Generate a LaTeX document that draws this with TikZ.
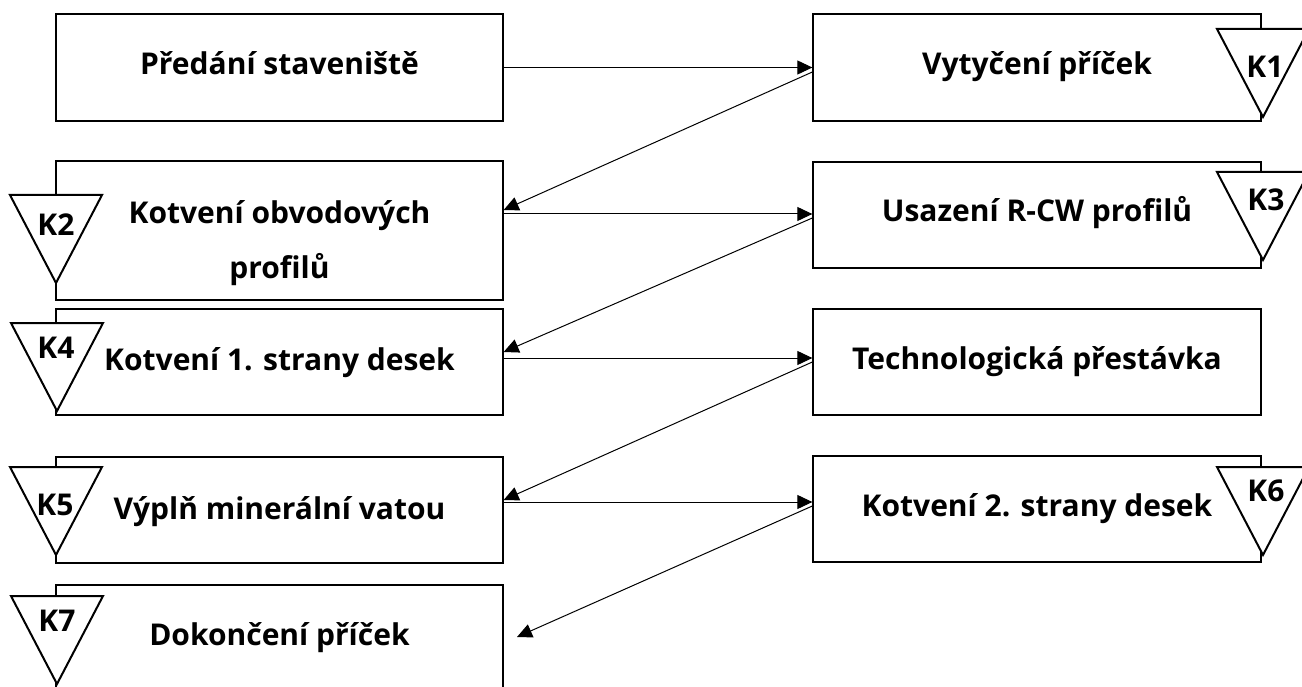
\documentclass[tikz,border=0pt]{standalone}
\usepackage{fontspec}
\setmainfont{Open Sans}
\usetikzlibrary{arrows.meta}
\newcommand\ktri[5]{%
  \draw[tri] ({#1-46},#2) -- ({#1+46},#2) -- (#1,{#2+88}) -- cycle;
  \node[klab] (#3) at (#4,#5) {#3};}
\begin{document}
\begin{tikzpicture}[x=1pt,y=-1pt,
  box/.style={draw, line width=1.3pt, rectangle, inner sep=0pt, minimum width=447pt, fill=white},
  lbl/.style={font=\fontsize{30}{55}\selectfont\bfseries, inner sep=0pt, anchor=base, align=center},
  conn/.style={line width=1pt, -{Triangle[length=15pt,width=14pt]}},
  tri/.style={draw, line width=2pt, fill=white, line join=miter},
  klab/.style={font=\fontsize{30}{30}\selectfont\bfseries, inner sep=0pt}]
\useasboundingbox (0,0) rectangle (1302,687);
\clip (0,0) rectangle (1302,687);
% left boxes
\node[box, minimum height=107pt] (b1) at (279.5,67.5) {};
\node[box, minimum height=139pt] (b2) at (279.5,230.5) {};
\node[box, minimum height=106pt] (b3) at (279.5,362) {};
\node[box, minimum height=106pt] (b4) at (279.5,510) {};
\node[box, minimum height=107pt] (b5) at (279.5,638.5) {};
% right boxes
\node[box, minimum width=448pt, minimum height=107pt] (r1) at (1037,67.5) {};
\node[box, minimum width=448pt, minimum height=106pt] (r2) at (1037,215) {};
\node[box, minimum width=448pt, minimum height=106pt] (r3) at (1037,362) {};
\node[box, minimum width=448pt, minimum height=106pt] (r4) at (1037,509) {};
% texts
\node[lbl] (t1) at (279.5,75) {Předání staveniště};
\node[lbl] (t2) at (279.5,279) {Kotvení obvodových\\profilů};
\node[lbl] (t3) at (279.5,370) {Kotvení 1. strany desek};
\node[lbl] (t4) at (279.5,519) {Výplň minerální vatou};
\node[lbl] (t5) at (279.5,645) {Dokončení příček};
\node[lbl] (s1) at (1037,75) {Vytyčení příček};
\node[lbl] (s2) at (1037,222) {Usazení R-CW profilů};
\node[lbl] (s3) at (1037,369) {Technologická přestávka};
\node[lbl] (s4) at (1037,516) {Kotvení 2. strany desek};
% triangles
\ktri{1263}{29}{K1}{1265}{67}
\ktri{56}{195}{K2}{56}{225}
\ktri{1263}{172}{K3}{1266}{200}
\ktri{57}{323}{K4}{56}{348}
\ktri{56}{467}{K5}{55}{505}
\ktri{1263}{467}{K6}{1266}{491}
\ktri{57}{596}{K7}{57}{621}
% connectors
\coordinate (end8) at (517,637);
\draw[conn] (b1.east) -- (r1.west);
\draw[conn] ([yshift=-4.5pt]r1.west) -- ([yshift=20.5pt]b2.east);
\draw[conn] ([yshift=16.5pt]b2.east) -- ([yshift=1pt]r2.west);
\draw[conn] ([yshift=-3pt]r2.west) -- ([yshift=10pt]b3.east);
\draw[conn] ([yshift=4pt]b3.east) -- ([yshift=4pt]r3.west);
\draw[conn] (r3.west) -- ([yshift=10pt]b4.east);
\draw[conn] ([yshift=8pt]b4.east) -- ([yshift=7pt]r4.west);
\draw[conn] ([yshift=3pt]r4.west) -- (end8);
\end{tikzpicture}
\end{document}
